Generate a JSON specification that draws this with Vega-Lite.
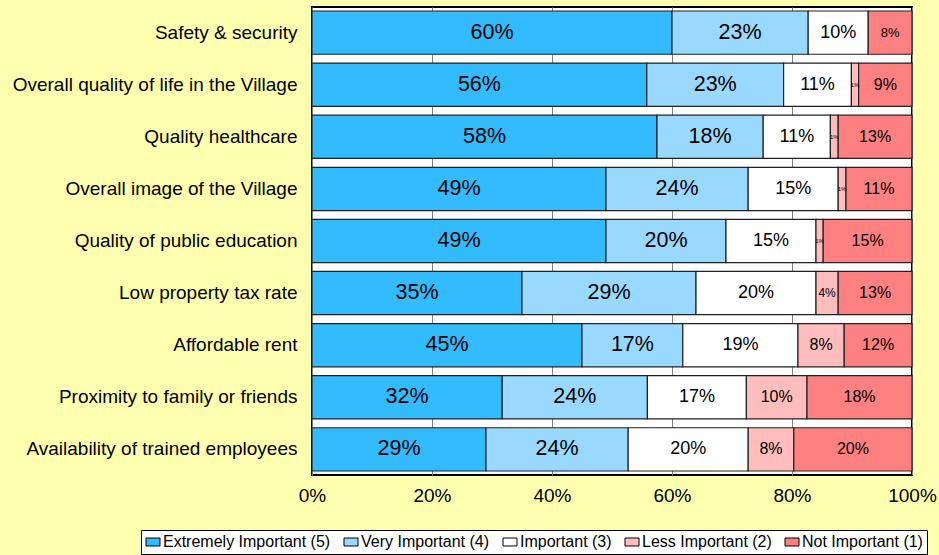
{
  "$schema": "https://vega.github.io/schema/vega-lite/v6.json",
  "width": 600,
  "height": 468,
  "autosize": {"type": "none"},
  "padding": {"left": 312, "top": 7, "right": 27, "bottom": 80},
  "background": "#FFFFB0",
  "config": {
    "view": {"fill": "white", "stroke": "black", "strokeWidth": 2},
    "font": "Liberation Sans"
  },
  "data": {
    "values": [
      {"item": "Safety & security", "cat": "Extremely Important (5)", "v": 60.0, "pct": 60},
      {"item": "Safety & security", "cat": "Very Important (4)", "v": 22.7, "pct": 23},
      {"item": "Safety & security", "cat": "Important (3)", "v": 10.0, "pct": 10},
      {"item": "Safety & security", "cat": "Not Important (1)", "v": 7.3, "pct": 8},
      {"item": "Overall quality of life in the Village", "cat": "Extremely Important (5)", "v": 55.8, "pct": 56},
      {"item": "Overall quality of life in the Village", "cat": "Very Important (4)", "v": 22.8, "pct": 23},
      {"item": "Overall quality of life in the Village", "cat": "Important (3)", "v": 11.3, "pct": 11},
      {"item": "Overall quality of life in the Village", "cat": "Less Important (2)", "v": 1.2, "pct": 1},
      {"item": "Overall quality of life in the Village", "cat": "Not Important (1)", "v": 8.9, "pct": 9},
      {"item": "Quality healthcare", "cat": "Extremely Important (5)", "v": 57.5, "pct": 58},
      {"item": "Quality healthcare", "cat": "Very Important (4)", "v": 17.7, "pct": 18},
      {"item": "Quality healthcare", "cat": "Important (3)", "v": 11.2, "pct": 11},
      {"item": "Quality healthcare", "cat": "Less Important (2)", "v": 1.3, "pct": 1},
      {"item": "Quality healthcare", "cat": "Not Important (1)", "v": 12.3, "pct": 13},
      {"item": "Overall image of the Village", "cat": "Extremely Important (5)", "v": 49.0, "pct": 49},
      {"item": "Overall image of the Village", "cat": "Very Important (4)", "v": 23.7, "pct": 24},
      {"item": "Overall image of the Village", "cat": "Important (3)", "v": 15.0, "pct": 15},
      {"item": "Overall image of the Village", "cat": "Less Important (2)", "v": 1.3, "pct": 1},
      {"item": "Overall image of the Village", "cat": "Not Important (1)", "v": 11.0, "pct": 11},
      {"item": "Quality of public education", "cat": "Extremely Important (5)", "v": 49.0, "pct": 49},
      {"item": "Quality of public education", "cat": "Very Important (4)", "v": 20.0, "pct": 20},
      {"item": "Quality of public education", "cat": "Important (3)", "v": 15.0, "pct": 15},
      {"item": "Quality of public education", "cat": "Less Important (2)", "v": 1.2, "pct": 1},
      {"item": "Quality of public education", "cat": "Not Important (1)", "v": 14.8, "pct": 15},
      {"item": "Low property tax rate", "cat": "Extremely Important (5)", "v": 35.0, "pct": 35},
      {"item": "Low property tax rate", "cat": "Very Important (4)", "v": 29.0, "pct": 29},
      {"item": "Low property tax rate", "cat": "Important (3)", "v": 20.0, "pct": 20},
      {"item": "Low property tax rate", "cat": "Less Important (2)", "v": 3.7, "pct": 4},
      {"item": "Low property tax rate", "cat": "Not Important (1)", "v": 12.3, "pct": 13},
      {"item": "Affordable rent", "cat": "Extremely Important (5)", "v": 45.0, "pct": 45},
      {"item": "Affordable rent", "cat": "Very Important (4)", "v": 16.8, "pct": 17},
      {"item": "Affordable rent", "cat": "Important (3)", "v": 19.2, "pct": 19},
      {"item": "Affordable rent", "cat": "Less Important (2)", "v": 7.7, "pct": 8},
      {"item": "Affordable rent", "cat": "Not Important (1)", "v": 11.3, "pct": 12},
      {"item": "Proximity to family or friends", "cat": "Extremely Important (5)", "v": 31.7, "pct": 32},
      {"item": "Proximity to family or friends", "cat": "Very Important (4)", "v": 24.2, "pct": 24},
      {"item": "Proximity to family or friends", "cat": "Important (3)", "v": 16.5, "pct": 17},
      {"item": "Proximity to family or friends", "cat": "Less Important (2)", "v": 10.1, "pct": 10},
      {"item": "Proximity to family or friends", "cat": "Not Important (1)", "v": 17.5, "pct": 18},
      {"item": "Availability of trained employees", "cat": "Extremely Important (5)", "v": 29.0, "pct": 29},
      {"item": "Availability of trained employees", "cat": "Very Important (4)", "v": 23.7, "pct": 24},
      {"item": "Availability of trained employees", "cat": "Important (3)", "v": 20.0, "pct": 20},
      {"item": "Availability of trained employees", "cat": "Less Important (2)", "v": 7.6, "pct": 8},
      {"item": "Availability of trained employees", "cat": "Not Important (1)", "v": 19.7, "pct": 20}
    ]
  },
  "transform": [
    {"calculate": "indexof(['Extremely Important (5)','Very Important (4)','Important (3)','Less Important (2)','Not Important (1)'], datum.cat)", "as": "ord"},
    {"stack": "v", "groupby": ["item"], "sort": [{"field": "ord", "order": "ascending"}], "as": ["v0", "v1"]},
    {"calculate": "(datum.v0 + datum.v1) / 2", "as": "mid"},
    {"calculate": "datum.pct + '%'", "as": "lbl"}
  ],
  "encoding": {
    "y": {
      "field": "item",
      "type": "nominal",
      "sort": ["Safety & security", "Overall quality of life in the Village", "Quality healthcare", "Overall image of the Village", "Quality of public education", "Low property tax rate", "Affordable rent", "Proximity to family or friends", "Availability of trained employees"],
      "scale": {"paddingInner": 0.17, "paddingOuter": 0.077},
      "axis": {"title": null, "domain": false, "ticks": false, "labelFontSize": 19, "labelColor": "black", "labelFont": "Liberation Sans", "labelPadding": 15, "labelLimit": 400}
    }
  },
  "layer": [
    {
      "mark": {"type": "bar", "stroke": "#222222", "strokeWidth": 1.2},
      "encoding": {
        "x": {
          "field": "v0",
          "type": "quantitative",
          "scale": {"domain": [0, 100], "nice": false},
          "axis": {"title": null, "domain": false, "ticks": false, "grid": true, "gridColor": "#808080", "gridWidth": 1, "gridOpacity": 1, "values": [0, 20, 40, 60, 80, 100], "labelExpr": "datum.value + '%'", "labelFontSize": 19, "labelColor": "black", "labelFont": "Liberation Sans", "labelPadding": 11, "labelFlush": false}
        },
        "x2": {"field": "v1"},
        "fill": {
          "field": "cat",
          "type": "nominal",
          "scale": {
            "domain": ["Extremely Important (5)", "Very Important (4)", "Important (3)", "Less Important (2)", "Not Important (1)"],
            "range": ["#33BBFF", "#9AD9FF", "#FFFFFF", "#FFBDBD", "#FF8080"]
          },
          "legend": {
            "title": null,
            "orient": "none",
            "legendX": -171,
            "legendY": 523,
            "direction": "horizontal",
            "columns": 5,
            "symbolType": "M-1,-0.57H1V0.57H-1Z",
            "symbolSize": 196,
            "symbolStrokeColor": "black",
            "symbolStrokeWidth": 1,
            "symbolOpacity": 1,
            "labelFontSize": 16,
            "labelFont": "Liberation Sans",
            "labelColor": "black",
            "labelLimit": 400,
            "labelOffset": 2,
            "columnPadding": 11,
            "fillColor": "white",
            "strokeColor": "black",
            "padding": 4
          }
        }
      }
    },
    {
      "mark": {"type": "text", "font": "Liberation Sans", "color": "black"},
      "encoding": {
        "x": {"field": "mid", "type": "quantitative"},
        "text": {"field": "lbl"},
        "size": {
          "condition": [
            {"test": "datum.v < 2", "value": 6},
            {"test": "datum.v < 5", "value": 12},
            {"test": "datum.v < 7.5", "value": 13},
            {"test": "datum.cat == 'Extremely Important (5)' || datum.cat == 'Very Important (4)'", "value": 21.5},
            {"test": "datum.cat == 'Important (3)'", "value": 18}
          ],
          "value": 16
        }
      }
    }
  ]
}
